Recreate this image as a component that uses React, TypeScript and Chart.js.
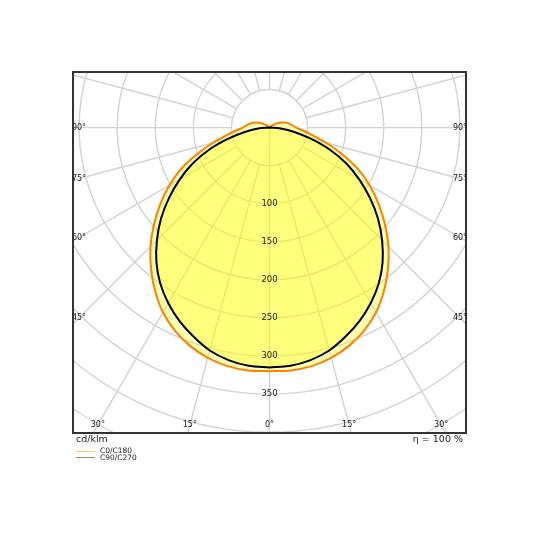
import React, { useEffect, useRef } from 'react';
import { Chart, registerables } from 'chart.js';

Chart.register(...registerables);

// gamma angles (deg) measured from the downward vertical
const gammaAngles: number[] = [
  0, 5, 10, 15, 20, 25, 30, 35, 40, 45, 50, 55, 60, 65, 70, 75, 80, 85, 90,
  95, 100, 105, 110, 115, 120, 125, 130, 135, 140, 145, 150, 155, 160, 165, 170, 175, 180,
];

// C0/C180 plane, cd/klm
const c0c180: number[] = [
  320, 320, 318, 313, 305, 294, 280, 262, 242, 221, 198, 175, 152, 128, 101, 77, 57, 44, 35,
  31, 27, 24, 20, 15, 11, 7, 4, 2, 0, 0, 0, 0, 0, 0, 0, 0, 0,
];

// C90/C270 plane, cd/klm
const c90c270: number[] = [
  315, 314, 310, 303, 292, 280, 266, 250, 231, 209, 186, 161, 136, 111, 84, 56, 33, 15, 0,
  0, 0, 0, 0, 0, 0, 0, 0, 0, 0, 0, 0, 0, 0, 0, 0, 0, 0,
];

const radialTicks: number[] = [100, 150, 200, 250, 300, 350];
const gridRadii: number[] = [50, 100, 150, 200, 250, 300, 350, 400, 450, 500];
const spokeAngles: number[] = [
  0, 15, 30, 45, 60, 75, 90, 105, 120, 135, 150, 165, 180,
  195, 210, 225, 240, 255, 270, 285, 300, 315, 330, 345,
];
const angleLabels: number[] = [0, 15, 30, 45, 60, 75, 90];

const FONT = '"DejaVu Sans", sans-serif';

// closed outline: right half (C0 / C90) then left half (C180 / C270)
const toShape = (values: number[]) => {
  const rad = (g: number) => (g * Math.PI) / 180;
  const right = gammaAngles.map((g, i) => ({ x: values[i] * Math.sin(rad(g)), y: -values[i] * Math.cos(rad(g)) }));
  const left = gammaAngles
    .map((g, i) => ({ x: -values[i] * Math.sin(rad(g)), y: -values[i] * Math.cos(rad(g)) }))
    .reverse();
  return [...right, ...left];
};

const polarGrid = {
  id: 'polarGrid',
  beforeDatasetsDraw(chart: any) {
    const { ctx, chartArea: a, scales } = chart;
    const cx = scales.x.getPixelForValue(0);
    const cy = scales.y.getPixelForValue(0);
    const k = scales.x.getPixelForValue(100) - cx;
    ctx.save();
    ctx.beginPath();
    ctx.rect(a.left, a.top, a.right - a.left, a.bottom - a.top);
    ctx.clip();
    ctx.strokeStyle = '#d2d2d2';
    ctx.lineWidth = 1.4;
    gridRadii.forEach((r) => {
      ctx.beginPath();
      ctx.arc(cx, cy, (r / 100) * k, 0, Math.PI * 2);
      ctx.stroke();
    });
    const r0 = (gridRadii[0] / 100) * k;
    spokeAngles.forEach((g) => {
      const t = (g * Math.PI) / 180;
      const dx = Math.sin(t);
      const dy = Math.cos(t);
      const start = g === 0 ? 0 : r0;
      ctx.beginPath();
      ctx.moveTo(cx + dx * start, cy + dy * start);
      ctx.lineTo(cx + dx * 800, cy + dy * 800);
      ctx.stroke();
    });
    ctx.restore();
  },
  afterDatasetsDraw(chart: any) {
    const { ctx, chartArea: a, scales } = chart;
    const cx = scales.x.getPixelForValue(0);
    const cy = scales.y.getPixelForValue(0);
    ctx.save();
    ctx.fillStyle = '#1a1a1a';
    ctx.font = `8.5px ${FONT}`;
    ctx.textAlign = 'center';
    ctx.textBaseline = 'middle';
    radialTicks.forEach((v) => {
      ctx.fillText(String(v), cx, scales.y.getPixelForValue(-v));
    });
    ctx.font = `8px ${FONT}`;
    const inL = a.left + 6;
    const inR = a.right - 6;
    const inB = a.bottom - 8;
    [-1, 1].forEach((side) => {
      angleLabels.forEach((g) => {
        if (g === 0 && side < 0) return;
        const t = (g * Math.PI) / 180;
        const dx = side * Math.sin(t);
        const dy = Math.cos(t);
        let s = Infinity;
        if (dx > 1e-6) s = Math.min(s, (inR - cx) / dx);
        if (dx < -1e-6) s = Math.min(s, (inL - cx) / dx);
        if (dy > 1e-6) s = Math.min(s, (inB - cy) / dy);
        ctx.fillText(`${g}°`, cx + dx * s, cy + dy * s);
      });
    });
    ctx.strokeStyle = '#333';
    ctx.lineWidth = 2;
    ctx.strokeRect(a.left, a.top, a.right - a.left, a.bottom - a.top);
    ctx.restore();
  },
};

const PolarDiagram: React.FC = () => {
  const canvasRef = useRef<HTMLCanvasElement>(null);
  const chartRef = useRef<Chart | null>(null);

  useEffect(() => {
    if (!canvasRef.current) return;
    if (chartRef.current) chartRef.current.destroy();

    chartRef.current = new Chart(canvasRef.current, {
      type: 'scatter',
      data: {
        datasets: [
          {
            label: 'C90/C270',
            data: toShape(c90c270),
            showLine: true,
            borderColor: '#000000',
            borderWidth: 2,
            backgroundColor: 'rgba(255,255,0,0.3)',
            fill: 'shape',
            pointRadius: 0,
            tension: 0.3,
            order: 0,
          },
          {
            label: 'C0/C180',
            data: toShape(c0c180),
            showLine: true,
            borderColor: '#ff8000',
            borderWidth: 2,
            backgroundColor: 'rgba(255,255,0,0.3)',
            fill: 'shape',
            pointRadius: 0,
            tension: 0.3,
            order: 1,
          },
        ],
      },
      options: {
        responsive: false,
        animation: false,
        layout: { padding: { left: 73, right: 74, top: 72, bottom: 107 } },
        scales: {
          x: { type: 'linear', min: -258, max: 258, display: false },
          y: { type: 'linear', min: -401, max: 73, display: false },
        },
        plugins: {
          legend: { display: false },
          tooltip: { enabled: false },
        },
      },
      plugins: [polarGrid],
    });

    return () => {
      if (chartRef.current) {
        chartRef.current.destroy();
        chartRef.current = null;
      }
    };
  }, []);

  const text: React.CSSProperties = { position: 'absolute', fontFamily: FONT, color: '#222', whiteSpace: 'nowrap' };

  return (
    <div style={{ position: 'fixed', left: 0, top: 0, width: 540, height: 540, background: '#fff' }}>
      <canvas ref={canvasRef} width={540} height={540} style={{ position: 'absolute', left: 0, top: 0 }} />
      <div style={{ ...text, left: 76, top: 433, fontSize: 9.5, lineHeight: '12px' }}>cd/klm</div>
      <div style={{ ...text, right: 77, top: 433, fontSize: 9.5, lineHeight: '12px' }}>η = 100 %</div>
      {/* legend */}
      <div style={{ position: 'absolute', left: 76, top: 451, width: 19, height: 1, background: '#ffc37a' }} />
      <div style={{ ...text, left: 100, top: 447, fontSize: 7.5, lineHeight: '8px' }}>C0/C180</div>
      <div style={{ position: 'absolute', left: 76, top: 457, width: 19, height: 1, background: '#8c8c8c' }} />
      <div style={{ ...text, left: 100, top: 454, fontSize: 7.5, lineHeight: '8px' }}>C90/C270</div>
    </div>
  );
};

export default function App() {
  return <PolarDiagram />;
}
